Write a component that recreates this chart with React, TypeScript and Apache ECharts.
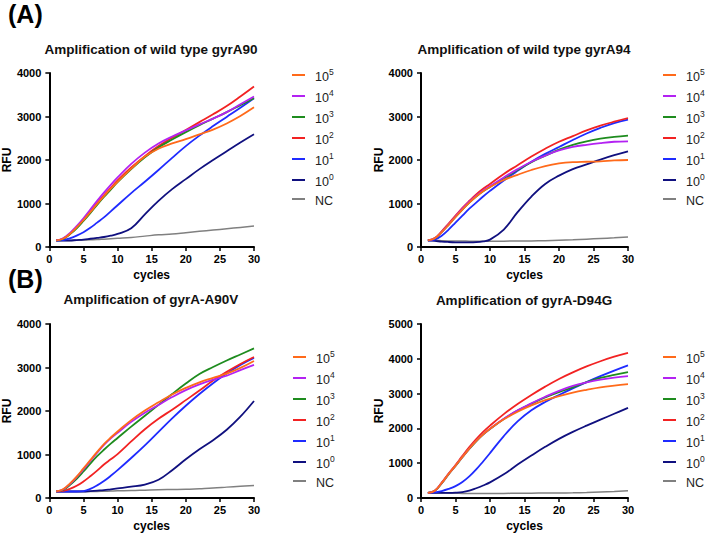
import React, { useEffect, useRef } from "react";
import * as echarts from "echarts";

const CYCLES = [1, 2, 3, 4, 5, 6, 7, 8, 9, 10, 12, 14, 16, 18, 20, 22, 24, 26, 28, 30];
const SERIES_NAMES = ["10^5", "10^4", "10^3", "10^2", "10^1", "10^0", "NC"];
const COLORS = ["#FF6A1A", "#B322F2", "#1E8C1E", "#F22222", "#1F2BFF", "#10107F", "#808080"];

// (A) wild type gyrA90
const A90_E5 = [150, 190, 300, 450, 620, 800, 990, 1170, 1340, 1500, 1800, 2080, 2260, 2380, 2480, 2590, 2700, 2840, 3010, 3210];
const A90_E4 = [150, 200, 320, 480, 660, 860, 1060, 1250, 1430, 1600, 1910, 2170, 2380, 2540, 2680, 2820, 2950, 3100, 3280, 3460];
const A90_E3 = [150, 185, 290, 430, 600, 780, 970, 1150, 1320, 1490, 1790, 2060, 2290, 2470, 2640, 2800, 2950, 3100, 3260, 3420];
const A90_E2 = [150, 190, 300, 450, 630, 820, 1010, 1190, 1360, 1530, 1830, 2090, 2320, 2510, 2690, 2870, 3050, 3240, 3460, 3690];
const A90_E1 = [150, 160, 200, 260, 340, 440, 560, 680, 820, 960, 1240, 1500, 1770, 2050, 2320, 2560, 2780, 2990, 3200, 3420];
const A90_E0 = [150, 150, 150, 160, 170, 190, 210, 230, 260, 300, 430, 750, 1060, 1330, 1560, 1790, 2000, 2200, 2400, 2590];
const A90_NC = [150, 150, 150, 155, 160, 165, 170, 180, 190, 200, 220, 250, 280, 300, 330, 360, 390, 420, 450, 480];

// (A) wild type gyrA94
const A94_E5 = [150, 200, 340, 510, 690, 860, 1020, 1160, 1280, 1380, 1540, 1660, 1770, 1860, 1920, 1950, 1960, 1970, 1990, 2000];
const A94_E4 = [150, 200, 350, 520, 700, 880, 1040, 1180, 1300, 1400, 1600, 1790, 1960, 2100, 2220, 2300, 2350, 2390, 2420, 2430];
const A94_E3 = [150, 195, 340, 510, 690, 860, 1020, 1160, 1280, 1380, 1580, 1770, 1950, 2100, 2240, 2350, 2430, 2490, 2530, 2560];
const A94_E2 = [150, 205, 360, 540, 720, 900, 1060, 1210, 1340, 1450, 1680, 1880, 2080, 2260, 2420, 2550, 2680, 2790, 2880, 2960];
const A94_E1 = [150, 170, 260, 400, 560, 720, 880, 1020, 1160, 1290, 1530, 1750, 1960, 2140, 2300, 2460, 2610, 2740, 2850, 2930];
const A94_E0 = [150, 140, 125, 115, 108, 105, 105, 110, 130, 170, 400, 800, 1160, 1450, 1640, 1790, 1900, 2010, 2110, 2200];
const A94_NC = [150, 150, 145, 140, 138, 136, 135, 135, 135, 135, 135, 138, 140, 145, 155, 165, 180, 195, 210, 230];

// (B) gyrA-A90V
const B90_E5 = [150, 200, 330, 490, 680, 870, 1060, 1240, 1390, 1530, 1790, 2010, 2200, 2380, 2530, 2660, 2760, 2860, 2990, 3150];
const B90_E4 = [150, 195, 320, 480, 660, 850, 1040, 1220, 1370, 1500, 1750, 1960, 2140, 2320, 2480, 2610, 2720, 2810, 2940, 3060];
const B90_E3 = [150, 185, 300, 440, 610, 790, 960, 1110, 1250, 1380, 1640, 1890, 2140, 2390, 2630, 2850, 3010, 3160, 3300, 3440];
const B90_E2 = [150, 165, 210, 280, 380, 500, 630, 770, 890, 1010, 1300, 1580, 1820, 2030, 2250, 2470, 2700, 2900, 3080, 3240];
const B90_E1 = [150, 150, 150, 150, 160, 210, 290, 390, 510, 640, 920, 1210, 1520, 1830, 2120, 2390, 2640, 2860, 3060, 3220];
const B90_E0 = [150, 150, 150, 150, 150, 160, 170, 180, 200, 220, 260, 310, 420, 640, 890, 1120, 1330, 1570, 1870, 2230];
const B90_NC = [150, 150, 150, 150, 150, 150, 150, 155, 160, 165, 170, 180, 190, 195, 200, 215, 230, 250, 270, 290];

// (B) gyrA-D94G
const D94_E5 = [150, 210, 430, 690, 930, 1180, 1420, 1640, 1830, 1990, 2260, 2480, 2660, 2810, 2930, 3030, 3110, 3180, 3230, 3270];
const D94_E4 = [150, 210, 430, 690, 930, 1180, 1420, 1640, 1830, 1990, 2280, 2520, 2720, 2910, 3080, 3220, 3320, 3400, 3460, 3500];
const D94_E3 = [150, 205, 420, 680, 920, 1170, 1410, 1630, 1820, 1980, 2270, 2510, 2710, 2890, 3040, 3180, 3330, 3450, 3540, 3620];
const D94_E2 = [150, 210, 440, 700, 950, 1210, 1460, 1690, 1900, 2080, 2410, 2700, 2960, 3200, 3420, 3610, 3780, 3930, 4060, 4170];
const D94_E1 = [150, 160, 200, 260, 340, 460, 620, 820, 1050, 1290, 1780, 2200, 2520, 2760, 2960, 3150, 3330, 3500, 3660, 3810];
const D94_E0 = [150, 150, 150, 150, 155, 170, 210, 280, 360, 450, 680, 960, 1220, 1470, 1700, 1900, 2080, 2250, 2420, 2590];
const D94_NC = [150, 150, 145, 140, 135, 132, 130, 130, 130, 130, 132, 135, 140, 142, 145, 150, 160, 175, 190, 210];

const PANEL_TITLES = [
  "Amplification of wild type gyrA90",
  "Amplification of wild type gyrA94",
  "Amplification of gyrA-A90V",
  "Amplification of gyrA-D94G",
];
const PANEL_DATA = [
  [A90_E5, A90_E4, A90_E3, A90_E2, A90_E1, A90_E0, A90_NC],
  [A94_E5, A94_E4, A94_E3, A94_E2, A94_E1, A94_E0, A94_NC],
  [B90_E5, B90_E4, B90_E3, B90_E2, B90_E1, B90_E0, B90_NC],
  [D94_E5, D94_E4, D94_E3, D94_E2, D94_E1, D94_E0, D94_NC],
];
const Y_MAX = [4000, 4000, 4000, 5000];
const X_TICK_STEP = 5;
const Y_TICK_STEP = 1000;

const FONT = "Liberation Sans, Arial, sans-serif";

// layout
const GRIDS = [
  { left: 48, top: 73, width: 206, height: 174 },
  { left: 421, top: 73, width: 207, height: 174 },
  { left: 48, top: 324, width: 206, height: 174 },
  { left: 421, top: 324, width: 207, height: 174 },
];
const TITLE_POS = [
  { x: 151, y: 42 },
  { x: 524, y: 42 },
  { x: 151, y: 292 },
  { x: 524, y: 293 },
];
const LEGEND_POS = [
  { left: 292, top: 67 },
  { left: 663, top: 67 },
  { left: 293, top: 349 },
  { left: 663, top: 349 },
];

export default function App() {
  const ref = useRef<HTMLDivElement>(null);
  useEffect(() => {
    if (!ref.current) return;
    const chart = echarts.init(ref.current, undefined, { renderer: "svg" });

    const axisCommon = {
      axisLine: { show: true, lineStyle: { color: "#000", width: 2 } },
      axisTick: { show: true, inside: false, length: 4, lineStyle: { color: "#000", width: 1.5 } },
      splitLine: { show: false },
      axisLabel: {
        color: "#000",
        fontWeight: "bold",
        fontSize: 11,
        fontFamily: FONT,
        formatter: (v: number) => String(v),
      },
      nameTextStyle: { color: "#000", fontWeight: "bold", fontSize: 12, fontFamily: FONT },
    };

    const xAxis = GRIDS.map((_, i) => ({
      ...axisCommon,
      type: "value",
      gridIndex: i,
      min: 0,
      max: 30,
      interval: X_TICK_STEP,
      name: "cycles",
      nameLocation: "middle",
      nameGap: 22,
      axisLabel: { ...axisCommon.axisLabel, margin: 6 },
    }));
    const yAxis = GRIDS.map((_, i) => ({
      ...axisCommon,
      type: "value",
      gridIndex: i,
      min: 0,
      max: Y_MAX[i],
      interval: Y_TICK_STEP,
      name: "RFU",
      nameLocation: "middle",
      nameGap: 34,
      axisLabel: { ...axisCommon.axisLabel, margin: 8 },
    }));

    const series: any[] = [];
    PANEL_DATA.forEach((panel, p) => {
      panel.forEach((vals, s) => {
        series.push({
          type: "line",
          name: SERIES_NAMES[s],
          xAxisIndex: p,
          yAxisIndex: p,
          data: CYCLES.map((c, k) => [c, vals[k]]),
          smooth: 0.4,
          showSymbol: false,
          symbol: "none",
          color: COLORS[s],
          lineStyle: { width: s === 6 ? 1.5 : 1.8, color: COLORS[s] },
          z: 10 - s,
        });
      });
    });

    const legend = LEGEND_POS.map((pos) => ({
      orient: "vertical",
      left: pos.left,
      top: pos.top,
      padding: 0,
      icon: "rect",
      itemWidth: 13,
      itemHeight: 2,
      itemGap: 5,
      selectedMode: false,
      data: SERIES_NAMES,
      formatter: (name: string) => {
        if (name.startsWith("10^")) return `{p|}{b|10}{s|${name.slice(3)}}`;
        return `{p|}{b|${name}}`;
      },
      textStyle: {
        color: "#222",
        fontFamily: FONT,
        fontSize: 12,
        rich: {
          p: { width: 5, fontSize: 12, lineHeight: 16 },
          b: { fontSize: 12.5, lineHeight: 16, color: "#222", fontFamily: FONT, verticalAlign: "bottom" },
          s: { fontSize: 8.5, lineHeight: 10, color: "#222", fontFamily: FONT, verticalAlign: "top" },
        },
      },
    }));

    const title = PANEL_TITLES.map((t, i) => ({
      text: t,
      left: TITLE_POS[i].x,
      top: TITLE_POS[i].y,
      textAlign: "center",
      padding: 0,
      textStyle: { color: "#111", fontWeight: "bold", fontSize: 13.5, fontFamily: FONT },
    }));

    chart.setOption({
      animation: false,
      backgroundColor: "#fff",
      title,
      grid: GRIDS.map((g) => ({ ...g, containLabel: false })),
      xAxis,
      yAxis,
      legend,
      series,
      graphic: [
        {
          type: "text",
          left: 8,
          top: 1,
          style: { text: "(A)", fontSize: 25, fontWeight: "bold", fontFamily: FONT, fill: "#000" },
        },
        {
          type: "text",
          left: 8,
          top: 266,
          style: { text: "(B)", fontSize: 25, fontWeight: "bold", fontFamily: FONT, fill: "#000" },
        },
      ],
    });
    return () => chart.dispose();
  }, []);

  return (
    <div
      ref={ref}
      style={{ position: "fixed", left: 0, top: 0, width: 708, height: 533, background: "#fff" }}
    />
  );
}
